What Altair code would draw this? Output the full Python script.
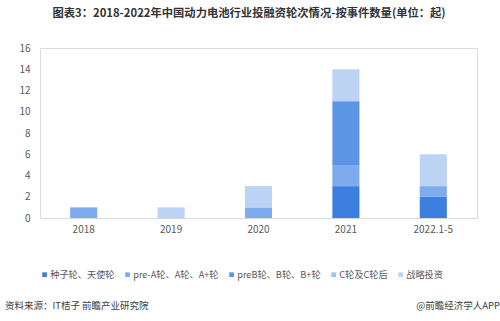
import altair as alt
import pandas as pd

categories = ["2018", "2019", "2020", "2021", "2022.1-5"]
series_names = ["种子轮、天使轮", "pre-A轮、A轮、A+轮", "preB轮、B轮、B+轮", "C轮及C轮后", "战略投资"]
seed = [0, 0, 0, 3, 2]
pre_a = [1, 0, 1, 2, 1]
pre_b = [0, 0, 0, 6, 0]
round_c = [0, 0, 0, 0, 0]
strategic = [0, 1, 2, 3, 3]
colors = ["#3d7fde", "#7eaaee", "#5b95e3", "#a3c0ee", "#bdd3f4"]

values = [seed, pre_a, pre_b, round_c, strategic]
rows = []
for si, (name, vals) in enumerate(zip(series_names, values)):
    for c, v in zip(categories, vals):
        rows.append({"year": c, "series": name, "value": v, "order": si})
df = pd.DataFrame(rows)

FONT = "Noto Sans CJK SC"
W, H = 437, 170

bars = alt.Chart(df).mark_bar().encode(
    x=alt.X("year:N", sort=categories,
            scale=alt.Scale(paddingInner=0.69, paddingOuter=0.345),
            axis=alt.Axis(title=None, labelAngle=0, ticks=False, domainColor="#d9d9d9",
                          labelColor="#595959", labelFontSize=10, labelFont=FONT,
                          labelPadding=6)),
    y=alt.Y("value:Q", stack="zero",
            scale=alt.Scale(domain=[0, 16]),
            axis=alt.Axis(title=None, values=list(range(0, 17, 2)), grid=False, domain=False,
                          ticks=False, labelColor="#595959", labelFontSize=10,
                          labelFont=FONT, labelPadding=10)),
    color=alt.Color("series:N", sort=series_names,
                    scale=alt.Scale(domain=series_names, range=colors),
                    legend=alt.Legend(title=None, orient="none", direction="horizontal",
                                      legendX=0, legendY=222, symbolType="square",
                                      symbolSize=22, symbolStrokeWidth=0,
                                      labelFontSize=9.2, labelFont=FONT, labelColor="#595959",
                                      columnPadding=8, labelOffset=1)),
    order=alt.Order("order:Q", sort="ascending"),
)

title_df = pd.DataFrame({"t": ["图表3：2018-2022年中国动力电池行业投融资轮次情况-按事件数量(单位：起)"]})
title = alt.Chart(title_df).mark_text(font=FONT, fontSize=11.3, fontWeight="bold",
                                      color="#333333", align="center", baseline="middle").encode(
    text="t:N", x=alt.value(209), y=alt.value(-34))

src_df = pd.DataFrame({"t": ["资料来源：IT桔子 前瞻产业研究院"]})
src = alt.Chart(src_df).mark_text(font=FONT, fontSize=9.5, color="#404040",
                                  align="left", baseline="middle").encode(
    text="t:N", x=alt.value(-35), y=alt.value(258))

app_df = pd.DataFrame({"t": ["@前瞻经济学人APP"]})
app = alt.Chart(app_df).mark_text(font=FONT, fontSize=9.5, color="#404040",
                                  align="right", baseline="middle").encode(
    text="t:N", x=alt.value(460), y=alt.value(258))

chart = alt.layer(bars, title, src, app).properties(
    width=W, height=H,
    autosize=alt.AutoSizeParams(type="none"),
    padding={"left": 40, "top": 48, "right": 23, "bottom": 103},
).configure_view(stroke=None).configure(background="white")

chart.save("out.html", embed_options={"renderer": "svg", "actions": False})
